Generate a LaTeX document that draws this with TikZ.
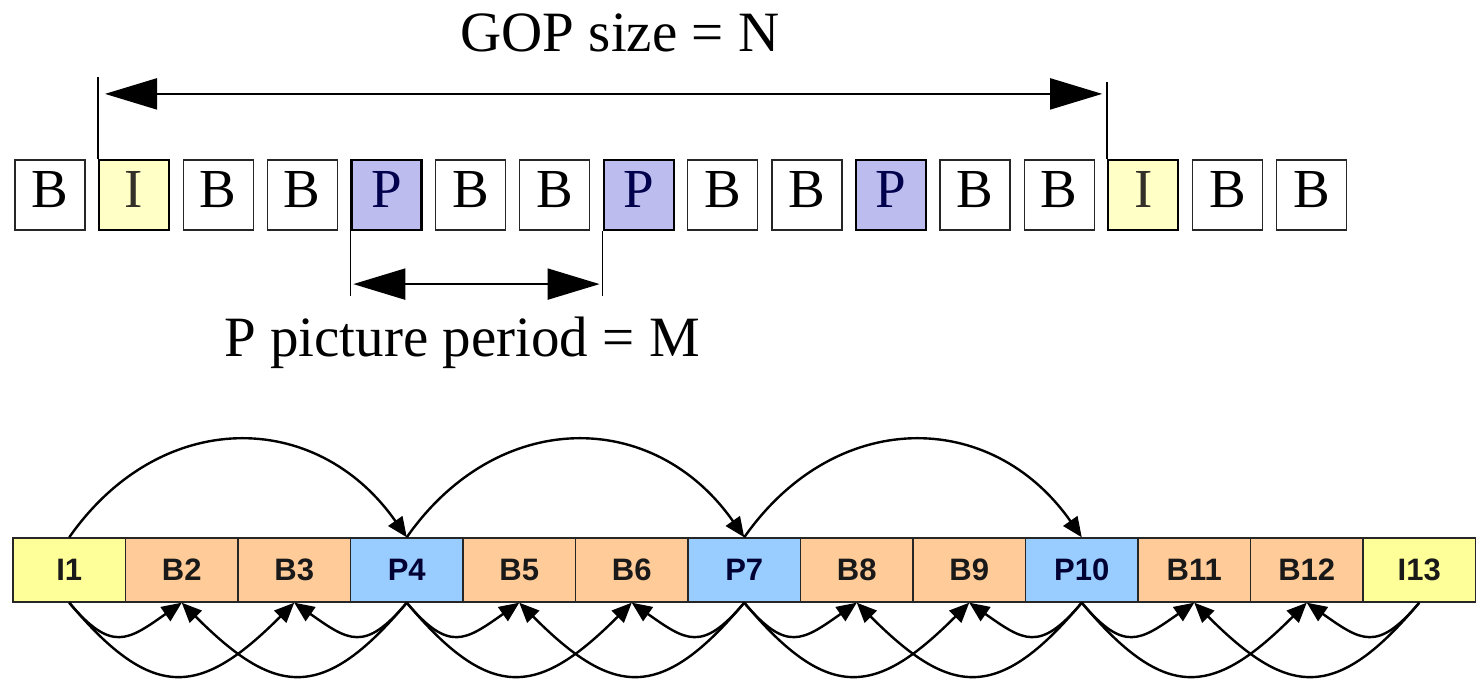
\documentclass[tikz,border=0pt]{standalone}
\usepackage{fontspec}
\setmainfont{Liberation Serif}
\newfontfamily\cellfont{Liberation Sans}
\usetikzlibrary{arrows.meta}

\definecolor{itop}{HTML}{FFFFC6}
\definecolor{ptop}{HTML}{BCBCEE}
\definecolor{icell}{HTML}{FFFF99}
\definecolor{bcell}{HTML}{FFCC99}
\definecolor{pcell}{HTML}{99CCFF}

\begin{document}
\begin{tikzpicture}[x=1pt,y=1pt]
      \tikzset{B slot/.style={draw=black!85,line width=1.3pt,minimum width=70pt,minimum height=70pt,
                 inner sep=0pt,text height=36pt,text depth=10pt,font=\fontsize{55}{55}\selectfont},
               I slot/.style={B slot,fill=itop,draw=black,line width=2.2pt,text=black!85!olive},
               P slot/.style={B slot,fill=ptop,draw=black,line width=2.2pt,text=blue!30!black},
               B cell/.style={draw=black!85,line width=1.4pt,fill=bcell,minimum width=112.5pt,minimum height=64pt,
                 inner sep=0pt,text=black!90,font=\cellfont\bfseries\fontsize{31}{31}\selectfont},
               I cell/.style={B cell,fill=icell},
               P cell/.style={B cell,fill=pcell,text=blue!20!black},
               span/.style={line width=2pt,{Triangle[length=52pt,width=31pt]}-{Triangle[length=52pt,width=31pt]}},
               ref/.style={line width=2.4pt,-{Triangle[length=20pt,width=17pt]}}}
      \def\pitch{84.1}
      \useasboundingbox (0,0) rectangle (1481,-684);

% display order of the GOP
\foreach \t [count=\i from 0] in {B,I,B,B,P,B,B,P,B,B,P,B,B,I,B,B}
      \node[\t\space slot] (t\i) at ({50+\i*\pitch},-195) {\t};

\node[anchor=base,font=\fontsize{57}{57}\selectfont] (gop) at (620,-52) {GOP size = N};
\node[anchor=base,font=\fontsize{57}{57}\selectfont] (per) at (462,-357) {P picture period = M};

\coordinate (gopL) at ([yshift=82pt]t1.north west);
\coordinate (gopR) at ([yshift=82pt]t13.north west);
\coordinate (perL) at ([yshift=-65pt]t4.south west);
\coordinate (perR) at ([yshift=-65pt]t7.south west);
\draw[line width=1.5pt] (t1.north west) -- (gopL);
\draw[line width=1.5pt] (t13.north west) -- ([yshift=-5pt]gopR);
\draw[span,shorten <=7pt,shorten >=5pt] ([yshift=-17pt]gopL) -- ([yshift=-17pt]gopR);
\draw[line width=1.5pt] (t4.south west) -- (perL);
\draw[line width=1.5pt] (t7.south west) -- (perR);
\draw[span,shorten <=3pt,shorten >=3pt] ([yshift=12pt]perL) -- ([yshift=12pt]perR);

% coding order with references
\foreach \t/\n [count=\i from 0] in {I/1,B/2,B/3,P/4,B/5,B/6,P/7,B/8,B/9,P/10,B/11,B/12,I/13}
      \node[\t\space cell] (f\n) at ({69.25+\i*112.5},-570) {\t\n};

\foreach \a/\b in {1/4,4/7,7/10}
      \draw[ref] (f\a.north) to[out=55,in=125,looseness=1.2] (f\b.north);

\foreach \a/\b/\o/\n in {1/2/-50/-145,1/3/-50/-135,4/3/-130/-35,4/2/-130/-45,
                         4/5/-50/-145,4/6/-50/-135,7/6/-130/-35,7/5/-130/-45,
                         7/8/-50/-145,7/9/-50/-135,10/9/-130/-35,10/8/-130/-45,
                         10/11/-50/-145,10/12/-50/-135,13/12/-130/-35,13/11/-130/-45}
      \draw[ref] (f\a.south) to[out=\o,in=\n,looseness=1.5] (f\b.south);
    \end{tikzpicture}
\end{document}
